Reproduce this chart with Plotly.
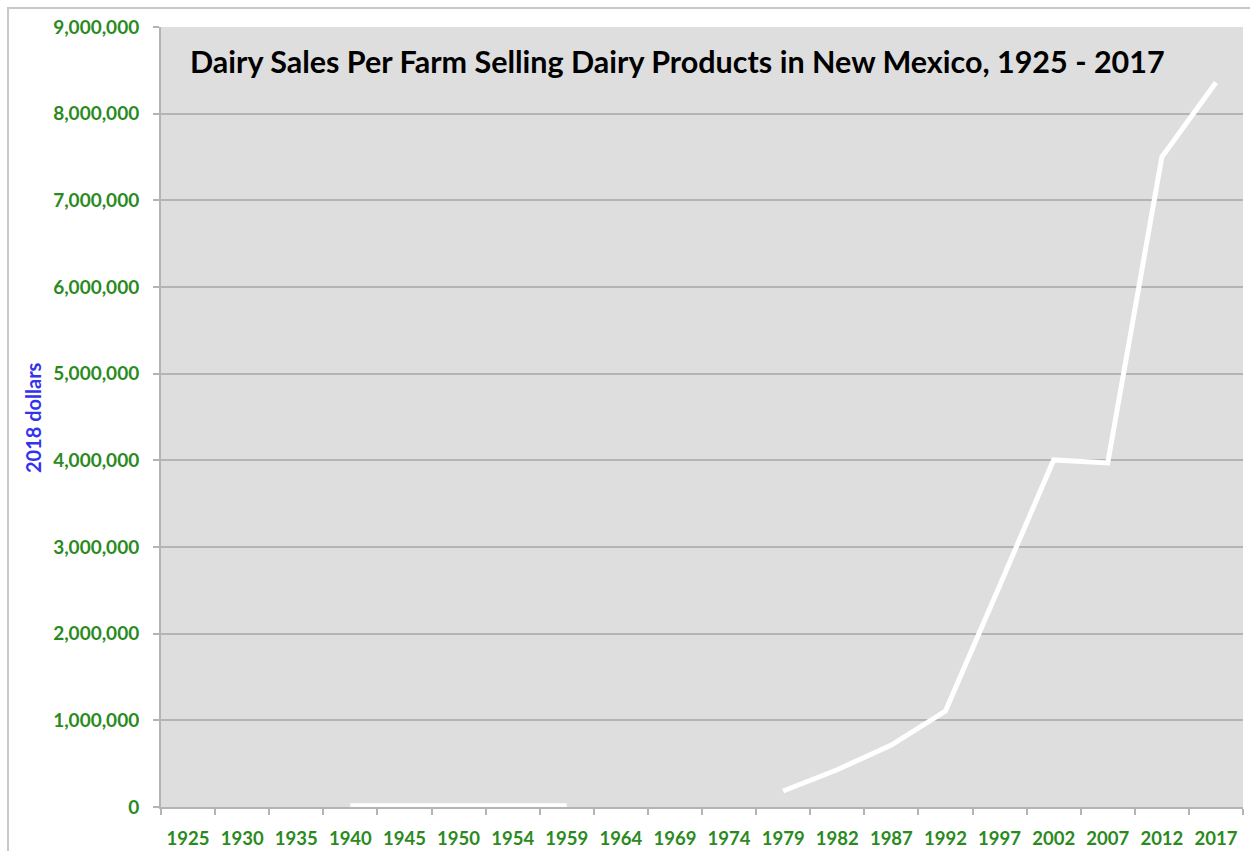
import plotly.graph_objects as go

years = ["1925", "1930", "1935", "1940", "1945", "1950", "1954", "1959", "1964", "1969",
         "1974", "1979", "1982", "1987", "1992", "1997", "2002", "2007", "2012", "2017"]
sales_per_farm = [None, None, None, 15000, 15000, 15000, 15000, 15000, None, None,
                  None, 185000, 430000, 715000, 1107000, 2550000, 4005000, 3970000, 7500000, 8360000]
y_ticks = [0, 1000000, 2000000, 3000000, 4000000, 5000000, 6000000, 7000000, 8000000, 9000000]
y_tick_text = [f"{v:,}" for v in y_ticks]

green = "#2a8a1e"
grid = "#b4b4b4"

fig = go.Figure()
fig.add_trace(go.Scatter(
    x=years, y=sales_per_farm, mode="lines",
    line=dict(color="white", width=5),
    connectgaps=False, showlegend=False, cliponaxis=False,
))

fig.update_layout(
    width=1250, height=851,
    margin=dict(l=161, r=7, t=27, b=44, autoexpand=False),
    paper_bgcolor="white",
    plot_bgcolor="#dedede",
    font=dict(family="Lato", color=green),
    xaxis=dict(
        type="category", automargin=False, layer="below traces",
        tickson="boundaries", ticks="outside", ticklen=6, tickcolor=grid, tickwidth=2,
        ticklabelstandoff=14,
        showgrid=False, showline=True, linecolor=grid, linewidth=2,
        tickfont=dict(family="Lato", size=18.5, color=green, weight="bold"),
        range=[-0.5, 19.5],
    ),
    yaxis=dict(
        range=[0, 9000000], automargin=False, layer="below traces",
        tickvals=y_ticks, ticktext=y_tick_text,
        ticks="outside", ticklen=6, tickcolor=grid, tickwidth=2,
        ticklabelstandoff=10,
        showgrid=True, gridcolor=grid, gridwidth=2,
        showline=True, linecolor=grid, linewidth=2,
        zeroline=False,
        tickfont=dict(family="Lato", size=19, color=green, weight="bold"),
    ),
    shapes=[dict(type="rect", xref="paper", yref="paper",
                 x0=-0.1414, x1=1.2, y0=-0.3, y1=1.0244,
                 line=dict(color="#c8c8c8", width=2), fillcolor="rgba(0,0,0,0)", layer="below")],
    annotations=[
        dict(
            text="Dairy Sales Per Farm Selling Dairy Products in New Mexico, 1925 - 2017",
            xref="paper", yref="paper", x=0.4772, y=0.957, xanchor="center", yanchor="middle",
            showarrow=False, font=dict(family="Lato", size=30.5, color="black", weight="bold"),
        ),
        dict(
            text="2018 dollars", textangle=-90,
            xref="paper", yref="paper", x=-0.1183, y=0.5, xanchor="center", yanchor="middle",
            showarrow=False, font=dict(family="Lato", size=20, color="#3333ee", weight="bold"),
        ),
    ],
)

fig.write_html("out.html")
